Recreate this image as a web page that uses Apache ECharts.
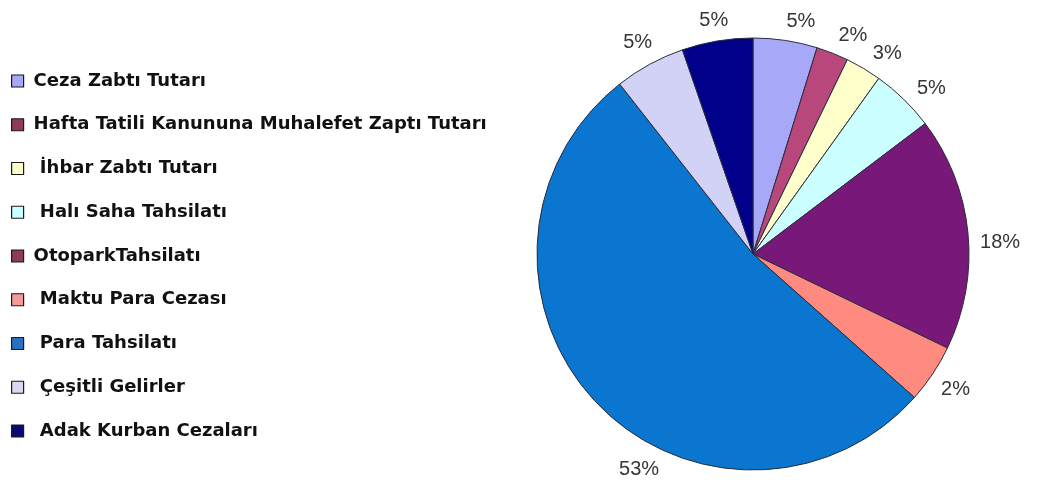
<!DOCTYPE html>
<html>
<head>
<meta charset="utf-8">
<script src="https://cdn.jsdelivr.net/npm/echarts@6/dist/echarts.min.js"></script>
<style>
html,body{margin:0;padding:0;background:#fff;}
#chart{width:1037px;height:486px;}
</style>
</head>
<body>
<div id="chart"></div>
<script>
const categories = [
  "Ceza Zabtı Tutarı",
  "Hafta Tatili Kanununa Muhalefet Zaptı Tutarı",
  "İhbar Zabtı Tutarı",
  "Halı Saha Tahsilatı",
  "OtoparkTahsilatı",
  "Maktu Para Cezası",
  "Para Tahsilatı",
  "Çeşitli Gelirler",
  "Adak Kurban Cezaları"
];
const legendNames = [
  "Ceza Zabtı Tutarı",
  "Hafta Tatili Kanununa Muhalefet Zaptı Tutarı",
  " İhbar Zabtı Tutarı",
  " Halı Saha Tahsilatı",
  "OtoparkTahsilatı",
  " Maktu Para Cezası",
  " Para Tahsilatı",
  " Çeşitli Gelirler",
  " Adak Kurban Cezaları"
];
const values = [4.8, 2.4, 2.7, 4.8, 17.5, 4.4, 52.9, 5.3, 5.3];
const percentLabels = ["5%", "2%", "3%", "5%", "18%", "2%", "53%", "5%", "5%"];
const sliceColors = ["#a8a8f8", "#b8487c", "#ffffcc", "#ccffff", "#781878", "#ff8a80", "#0a76d0", "#d2d2f6", "#00008a"];
const legendColors = ["#a8a8f8", "#8e3a5c", "#ffffcc", "#ccffff", "#8e3a5c", "#f49a9a", "#2a70c0", "#d8d8f0", "#0a0a70"];

const CX = 753, CY = 254, R = 216, GAP = 11;

const chart = echarts.init(document.getElementById('chart'), null, {renderer: 'canvas'});

const data = categories.map((c, i) => ({
  name: legendNames[i],
  value: values[i],
  itemStyle: {color: sliceColors[i]},
  label: {formatter: percentLabels[i]}
}));

chart.setOption({
  animation: false,
  legend: {
    orient: 'vertical',
    left: 11,
    top: 71,
    padding: 0,
    icon: 'rect',
    itemWidth: 12,
    itemHeight: 12,
    itemGap: 23.75,
    selectedMode: false,
    data: legendNames.map((n, i) => ({
      name: n,
      itemStyle: {color: legendColors[i], borderColor: '#1a1a1a', borderWidth: 1.2}
    })),
    textStyle: {
      fontFamily: 'DejaVu Sans',
      fontWeight: 'bold',
      fontSize: 18,
      lineHeight: 20,
      color: '#111',
      padding: [0, 0, 0, 5]
    }
  },
  series: [{
    type: 'pie',
    center: [CX, CY],
    radius: R,
    startAngle: 90,
    clockwise: true,
    avoidLabelOverlap: false,
    data: data,
    itemStyle: {borderColor: '#2a2a3a', borderWidth: 1},
    label: {
      show: true,
      position: 'outside',
      fontFamily: 'Liberation Sans',
      fontSize: 20,
      color: '#363636'
    },
    labelLine: {show: false, length: 6, length2: 0},
    labelLayout: function (p) {
      const lr = p.labelRect;
      let ux, uy;
      if (p.labelLinePoints && p.labelLinePoints.length) {
        ux = p.labelLinePoints[0][0] - CX;
        uy = p.labelLinePoints[0][1] - CY;
      } else {
        ux = lr.x + lr.width / 2 - CX;
        uy = lr.y + lr.height / 2 - CY;
      }
      const len = Math.sqrt(ux * ux + uy * uy) || 1;
      ux /= len; uy /= len;
      if (p.dataIndex <= 4) {
        const a = 3 * Math.PI / 180, c = Math.cos(a), s = Math.sin(a);
        const rx = ux * c - uy * s, ry = ux * s + uy * c;
        ux = rx; uy = ry;
      }
      const half = Math.abs(ux) * lr.width / 2 + Math.abs(uy) * (lr.height - 4) / 2;
      const d = R + GAP + half;
      const out = {
        x: CX + ux * d,
        y: CY + uy * d,
        align: 'center',
        verticalAlign: 'middle'
      };
      if (p.dataIndex === 6) { out.dx = 66; out.dy = 46; }
      return out;
    }
  }]
});
</script>
</body>
</html>
